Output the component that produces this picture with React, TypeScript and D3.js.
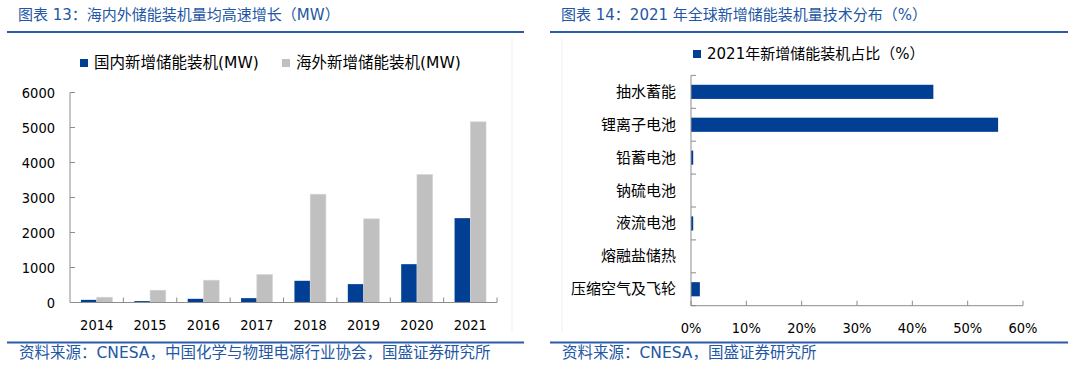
import React from 'react';
import { scaleBand, scaleLinear } from 'd3';

// left chart: new storage installations (MW)
const years = ['2014', '2015', '2016', '2017', '2018', '2019', '2020', '2021'];
const domesticMW = [76, 40, 105, 124, 620, 525, 1095, 2410];
const overseasMW = [152, 352, 638, 800, 3095, 2391, 3657, 5163];
const mwTicks = [0, 1000, 2000, 3000, 4000, 5000, 6000];

// right chart: 2021 technology share (%)
const techs = ['抽水蓄能', '锂离子电池', '铅蓄电池', '钠硫电池', '液流电池', '熔融盐储热', '压缩空气及飞轮'];
const techShare = [43.8, 55.5, 0.4, 0, 0.4, 0, 1.6];
const pctTicks = [0, 10, 20, 30, 40, 50, 60];

const BLUE = '#003f94';
const GRAY = '#c0c0c0';
const TITLE = '#2357a5';
const RULE = '#2b5ba9';
const AXIS = '#8c8c8c';
const NUM_FONT = '"DejaVu Sans Condensed", "DejaVu Sans", sans-serif';
const CJK_FONT = '"DejaVu Sans", "Noto Sans CJK SC", sans-serif';

function Frame({ x0, x1, title, source }: { x0: number; x1: number; title: string; source: string }) {
  return (
    <g>
      <text x={x0 + 11} y={15} dominantBaseline="central" fontSize={15} fill={TITLE} fontFamily={CJK_FONT}>
        {title}
      </text>
      <line x1={x0} x2={x1} y1={32} y2={32} stroke={RULE} strokeWidth={2} />
      <line x1={x0} x2={x1} y1={342.5} y2={342.5} stroke={RULE} strokeWidth={2} />
      <text x={x0 + 12} y={353} dominantBaseline="central" fontSize={15.5} fill={TITLE} fontFamily={CJK_FONT}>
        {source}
      </text>
    </g>
  );
}

function LeftChart() {
  const x = scaleBand<string>().domain(years).range([70, 497]);
  const bw = x.bandwidth();
  const groupW = bw * 0.59;
  const xs = scaleBand<string>()
    .domain(['d', 'o'])
    .range([(bw - groupW) / 2, (bw + groupW) / 2]);
  const y = scaleLinear().domain([0, 6000]).range([302.5, 92.5]);
  const [ax0, ax1] = x.range();

  return (
    <g>
      <line x1={512} x2={512} y1={38} y2={332} stroke="#efefef" />
      {/* legend */}
      <rect x={80} y={59} width={8} height={8} fill={BLUE} />
      <text x={94} y={63} dominantBaseline="central" fontSize={15.5} fontFamily={CJK_FONT} fill="#000">
        国内新增储能装机(MW)
      </text>
      <rect x={282} y={59} width={8} height={8} fill={GRAY} />
      <text x={296} y={63} dominantBaseline="central" fontSize={15.5} fontFamily={CJK_FONT} fill="#000">
        海外新增储能装机(MW)
      </text>

      {/* bars */}
      {years.map((yr, i) => (
        <g key={yr} transform={`translate(${x(yr)},0)`}>
          <rect
            x={xs('d')}
            y={y(domesticMW[i])}
            width={xs.bandwidth()}
            height={y(0) - y(domesticMW[i])}
            fill={BLUE}
          />
          <rect
            x={xs('o')}
            y={y(overseasMW[i])}
            width={xs.bandwidth()}
            height={y(0) - y(overseasMW[i])}
            fill={GRAY}
            stroke="#d8d8d8"
            strokeWidth={0.6}
          />
        </g>
      ))}

      {/* y axis */}
      <line x1={ax0} x2={ax0} y1={y(6000)} y2={y(0)} stroke={AXIS} />
      {mwTicks.map(t => (
        <g key={t}>
          <line x1={ax0} x2={ax0 + 5} y1={y(t)} y2={y(t)} stroke={AXIS} />
          <text
            x={55}
            y={y(t)}
            textAnchor="end"
            dominantBaseline="central"
            fontSize={14.5}
            fontFamily={NUM_FONT}
            fill="#000"
          >
            {t}
          </text>
        </g>
      ))}

      {/* x axis */}
      <line x1={ax0} x2={ax1} y1={y(0)} y2={y(0)} stroke={AXIS} />
      {years.map(yr => (
        <line key={yr} x1={x(yr)! + bw} x2={x(yr)! + bw} y1={y(0)} y2={y(0) - 5} stroke={AXIS} />
      ))}
      {years.map(yr => (
        <text
          key={yr}
          x={x(yr)! + bw / 2}
          y={325}
          textAnchor="middle"
          dominantBaseline="central"
          fontSize={14.5}
          fontFamily={NUM_FONT}
          fill="#000"
        >
          {yr}
        </text>
      ))}
    </g>
  );
}

function RightChart() {
  const y = scaleBand<string>().domain(techs).range([75.4, 305.7]);
  const bw = y.bandwidth();
  const barH = bw * 0.43;
  const x = scaleLinear().domain([0, 60]).range([691, 1023]);
  const [ay0, ay1] = y.range();

  return (
    <g>
      <line x1={562} x2={562} y1={38} y2={332} stroke="#efefef" />
      {/* legend */}
      <rect x={693} y={50} width={8} height={8} fill={BLUE} />
      <text x={707} y={54} dominantBaseline="central" fontSize={15} fontFamily={CJK_FONT} fill="#000">
        2021年新增储能装机占比（%）
      </text>

      {/* bars */}
      {techs.map((c, i) => (
        <rect
          key={c}
          x={x(0)}
          y={y(c)! + (bw - barH) / 2}
          width={x(techShare[i]) - x(0)}
          height={barH}
          fill={BLUE}
        />
      ))}

      {/* y axis */}
      <line x1={x(0)} x2={x(0)} y1={ay0} y2={ay1} stroke={AXIS} />
      {[...techs.map(c => y(c)!), ay1].map((v, i) => (
        <line key={i} x1={x(0)} x2={x(0) + 5} y1={v} y2={v} stroke={AXIS} />
      ))}
      {techs.map(c => (
        <text
          key={c}
          x={676}
          y={y(c)! + bw / 2}
          textAnchor="end"
          dominantBaseline="central"
          fontSize={15}
          fontFamily={CJK_FONT}
          fill="#000"
        >
          {c}
        </text>
      ))}

      {/* x axis */}
      <line x1={x(0)} x2={x(60)} y1={ay1} y2={ay1} stroke={AXIS} />
      {pctTicks.map(t => (
        <g key={t}>
          <line x1={x(t)} x2={x(t)} y1={ay1} y2={ay1 - 5} stroke={AXIS} />
          <text
            x={x(t)}
            y={328}
            textAnchor="middle"
            dominantBaseline="central"
            fontSize={14.5}
            fontFamily={NUM_FONT}
            fill="#000"
          >
            {t}%
          </text>
        </g>
      ))}
    </g>
  );
}

export default function App() {
  return (
    <div style={{ position: 'absolute', left: 0, top: 0, width: 1080, height: 369, background: '#fff' }}>
      <svg width={1080} height={369} viewBox="0 0 1080 369" style={{ display: 'block' }}>
        <rect width={1080} height={369} fill="#fff" />
        <Frame
          x0={7}
          x1={524}
          title="图表 13：海内外储能装机量均高速增长（MW）"
          source="资料来源：CNESA，中国化学与物理电源行业协会，国盛证券研究所"
        />
        <Frame
          x0={550}
          x1={1068}
          title="图表 14：2021 年全球新增储能装机量技术分布（%）"
          source="资料来源：CNESA，国盛证券研究所"
        />
        <LeftChart />
        <RightChart />
      </svg>
    </div>
  );
}
